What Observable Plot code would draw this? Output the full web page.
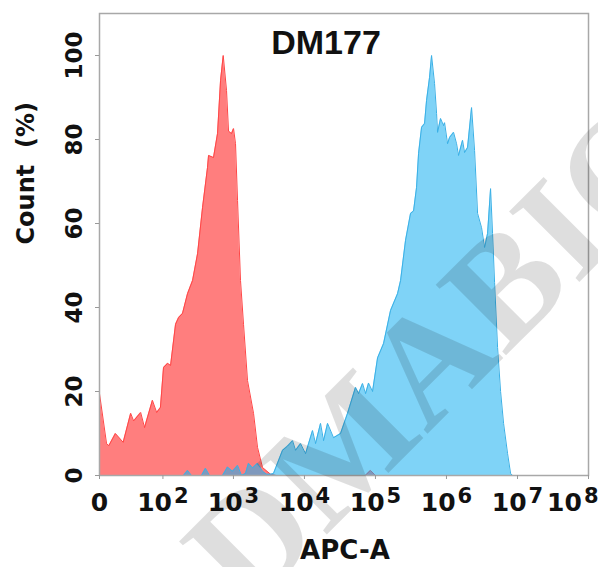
<!DOCTYPE html>
<html><head><meta charset="utf-8">
<script src="https://cdn.jsdelivr.net/npm/d3@7"></script>
<script src="https://cdn.jsdelivr.net/npm/@observablehq/plot@0.6"></script>
<style>body{margin:0;background:#fff} svg{display:block}</style>
</head><body><div id="chart"></div>
<script>
const title = "DM177";
const xLabel = "APC-A";
const yLabel = "Count\u00a0 (%)";
const watermark = "DMABIO";

const xTickValues = [0, 1e2, 1e3, 1e4, 1e5, 1e6, 1e7, 1e8];
const xTickLabels = ["0", "10^2", "10^3", "10^4", "10^5", "10^6", "10^7", "10^8"];
const yTicks = [0, 20, 40, 60, 80, 100];

// Unstained / isotype control (red)
const redApc = [0, 6, 8, 14, 22, 31, 35, 46, 53, 70, 81, 92, 102, 117, 129, 152, 168, 191, 225, 265,
  312, 367, 431, 446, 524, 597, 658, 718, 799, 853, 940, 1003, 1070, 1142, 1258, 1387, 1579, 1919, 2184, 2569,
  3331, 4000, 72000, 85000, 100000];
const redCount = [19.5, 7.6, 7.1, 10, 7.9, 14.8, 13, 15, 11.4, 17.9, 15, 16.2, 25.7, 26.7, 26.2, 36, 37.6, 38.6, 43.3, 46.4,
  52.8, 63.8, 73.3, 76.2, 75.7, 81.4, 94, 100, 91.7, 82, 81.4, 82.6, 79, 65.5, 46.4, 36, 22.6, 14.8, 6.7, 1.9,
  0.3, 0, 0, 1.2, 0];

// DM177 stained (blue)
const blueApc = [0, 197, 225, 256, 355, 404, 460, 702, 825, 971, 1142, 1300, 1479, 1631, 1857, 2184, 2569, 2924, 3331, 3670,
  4914, 5780, 6798, 7493, 8811, 10361, 13000, 14330, 16850, 18570, 21150, 25690, 32240, 40460, 52440, 57800, 65780, 72530, 79940, 91000,
  107040, 130000, 163150, 204750, 225700, 265300, 312100, 344000, 379100, 404600, 445900, 491400, 524300, 578000, 616700,
  679600, 725300, 749200, 825500, 910000, 940000, 1036000, 1106000, 1258000, 1387000, 1479000, 1685000, 1798000, 1981000, 2256000,
  2487000, 2742000, 3121000, 3440000, 3791000, 4178000, 4458000, 4757000, 5243000, 5780000, 6367000, 7253000, 7994000, 8529000];
const blueCount = [0, 0, 1.2, 0, 0, 1.7, 0, 0, 2, 1, 2.4, 0, 0.5, 2.9, 1.8, 2.9, 1, 0.3, 0.3, 0.5,
  6, 7, 8.3, 6, 7.6, 5.2, 10.7, 7.6, 12.4, 8.3, 12.4, 9, 10, 14.8, 21, 19.5, 21.9, 19.5, 22, 20,
  28, 31.4, 39.3, 43.3, 46.4, 56, 62.4, 63, 68.6, 76.7, 82.9, 83.8, 89.3, 94.8, 100,
  93.3, 86.2, 81.7, 85, 83.3, 84, 79, 80.5, 81.7, 79, 76.2, 79.8, 76.9, 78.1, 87.6,
  77.4, 62.4, 59, 54.3, 57.6, 68.3, 57.6, 46, 30.5, 20, 12.4, 5.2, 0.5, 0];

// biexponential (arcsinh) display transform
const W = 13;
const biex = v => Math.asinh(v / (2 * W)) / Math.LN10;

const red = redApc.map((v, i) => ({x: biex(v), y: redCount[i]}));
const blue = blueApc.map((v, i) => ({x: biex(v), y: blueCount[i]}));
const labelFor = new Map(xTickValues.map((v, i) => [biex(v), xTickLabels[i]]));

const FONT = "DejaVu Sans";
const plot = Plot.plot({
  width: 598, height: 567,
  marginLeft: 99, marginRight: 10, marginTop: 13, marginBottom: 92,
  style: {fontFamily: FONT, background: "#fff", color: "#111"},
  x: {domain: [biex(0), biex(1e8)]},
  y: {domain: [0, 110]},
  marks: [
    Plot.areaY(red, {x: "x", y: "y", fill: "#ff5a5a", fillOpacity: 0.78}),
    Plot.lineY(red, {x: "x", y: "y", stroke: "#ff4646", strokeWidth: 1}),
    Plot.areaY(blue, {x: "x", y: "y", fill: "#16aff0", fillOpacity: 0.55}),
    Plot.lineY(blue, {x: "x", y: "y", stroke: "#3ab0e6", strokeWidth: 1}),
    Plot.frame({stroke: "#a8a8a8", strokeWidth: 1.5}),
    Plot.axisX({ticks: xTickValues.map(biex), tickFormat: d => labelFor.get(d), tickSize: 4, tickPadding: 14,
      fontSize: 25, fontWeight: "bold", fontFamily: FONT, stroke: "#999", label: null}),
    Plot.axisY({ticks: yTicks, tickSize: 4, tickFormat: () => "", stroke: "#999", label: null}),
    Plot.text(yTicks, {y: d => d, frameAnchor: "left", dx: -18, rotate: -90, text: d => String(d),
      fontSize: 23, fontWeight: "bold", fontFamily: FONT, lineAnchor: "bottom", textAnchor: "middle", fill: "#111"}),
    Plot.text([title], {frameAnchor: "top", dx: -18, dy: 40, lineAnchor: "bottom", text: d => d,
      fontSize: 34, fontWeight: "bold", fontFamily: "Liberation Sans", fill: "#111"}),
    Plot.text([xLabel], {frameAnchor: "bottom", dx: 1, dy: 83, lineAnchor: "bottom", text: d => d,
      fontSize: 26, fontWeight: "bold", fontFamily: FONT, fill: "#111"}),
    Plot.text([yLabel], {frameAnchor: "left", dx: -73, rotate: -90, lineAnchor: "middle", text: d => d,
      fontSize: 24, fontWeight: "bold", fontFamily: FONT, fill: "#111"}),
    Plot.text([watermark], {frameAnchor: "middle", dx: 96, dy: 108, rotate: -45, text: d => d,
      fontSize: 152, fontWeight: "bold", fontFamily: "Liberation Serif", fill: "#000", fillOpacity: 0.13})
  ]
});
document.getElementById("chart").appendChild(plot);

// superscript exponents on the x tick labels
const texts = d3.select(plot).selectAll('g[aria-label="x-axis tick label"] text').nodes();
texts.forEach((el, i) => {
  const s = el.textContent;
  if (s.includes("^")) {
    const [base, exp] = s.split("^");
    el.textContent = "";
    const ns = "http://www.w3.org/2000/svg";
    const t1 = document.createElementNS(ns, "tspan"); t1.textContent = base;
    const t2 = document.createElementNS(ns, "tspan"); t2.textContent = exp;
    t2.setAttribute("dy", "-8"); t2.setAttribute("dx", "2"); t2.setAttribute("font-size", "21");
    el.appendChild(t1); el.appendChild(t2);
    if (i === texts.length - 1) { el.setAttribute("text-anchor", "end"); t1.setAttribute("dx", "10"); }
  }
});
</script>
</body></html>
